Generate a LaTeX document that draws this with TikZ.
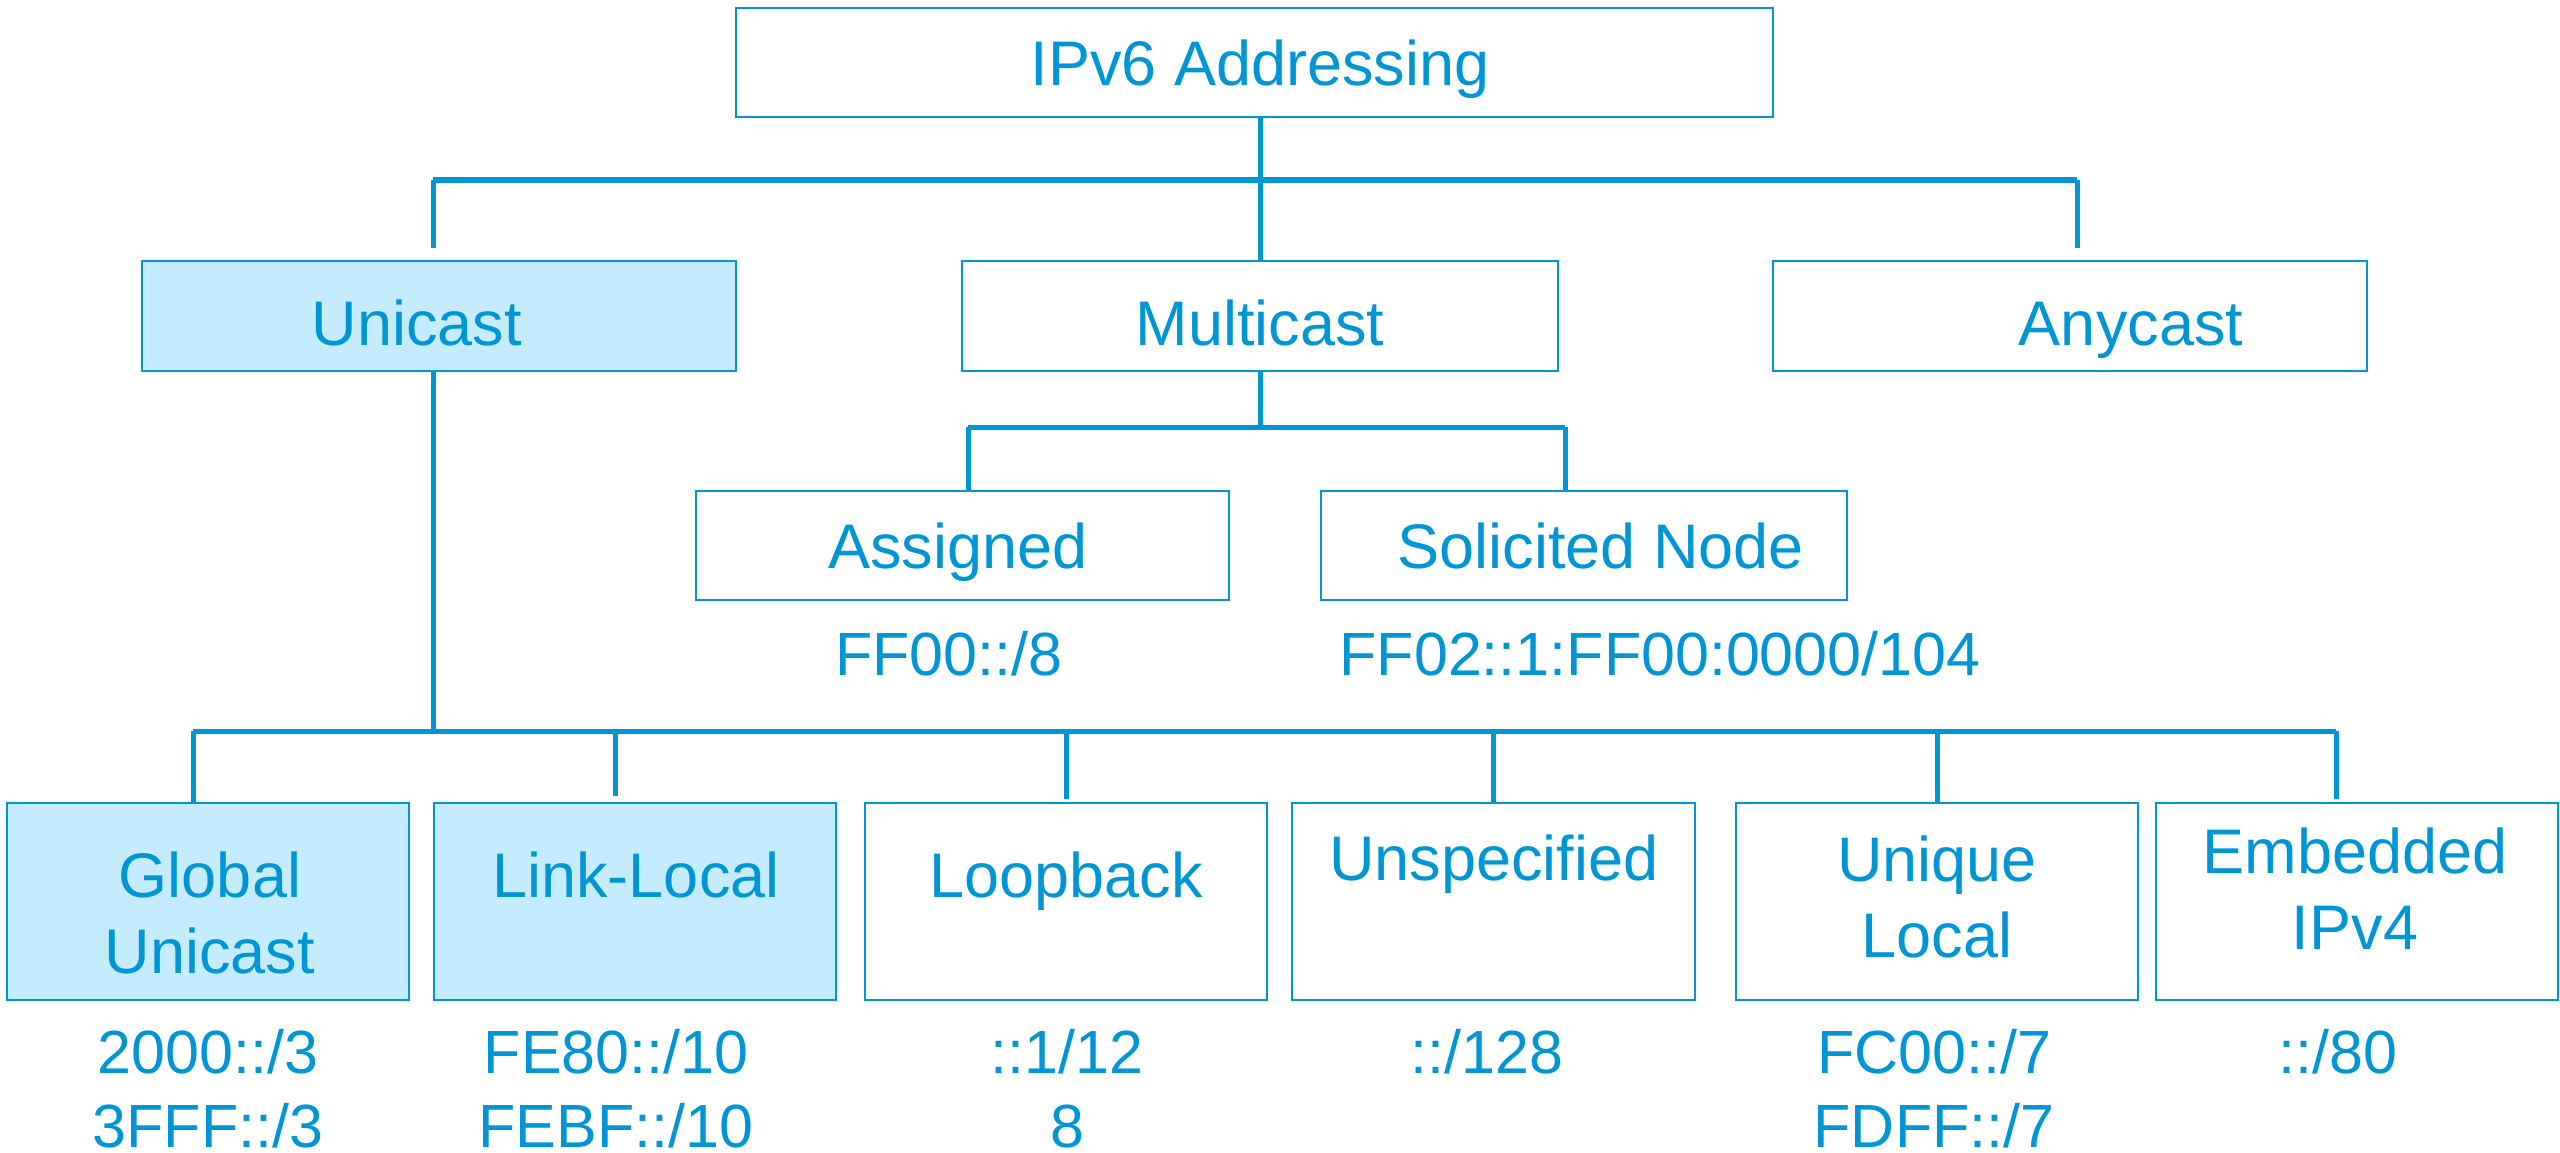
\documentclass[tikz,border=0pt]{standalone}
\usepackage{fontspec}
\setmainfont{Liberation Sans}
\definecolor{ib}{HTML}{0096D6}
\definecolor{fillb}{HTML}{C5ECFD}
\tikzset{
  box/.style={draw=ib, line width=2.5pt, rectangle, inner sep=0pt, outer sep=0pt},
  hbox/.style={box, fill=fillb},
  boxtext/.style={text=ib, inner sep=0pt, anchor=base, align=center, font=\fontsize{63}{76}\selectfont},
  lbl/.style={text=ib, inner sep=0pt, anchor=base, align=center, font=\fontsize{61}{74}\selectfont},
  conn/.style={draw=ib, line width=5pt}
}
\begin{document}
\begin{tikzpicture}[x=1pt,y=-1pt]
\useasboundingbox (0,0) rectangle (2560,1153);
% boxes
\node[box, minimum width=1037pt, minimum height=109pt] (top) at (1254.5,62.5) {};
\node[hbox, minimum width=594pt, minimum height=110pt] (uni) at (439,316) {};
\node[box, minimum width=596pt, minimum height=110pt] (multi) at (1260,316) {};
\node[box, minimum width=594pt, minimum height=110pt] (any) at (2070,316) {};
\node[box, minimum width=533pt, minimum height=109pt] (asg) at (962.5,545.5) {};
\node[box, minimum width=526pt, minimum height=109pt] (sol) at (1584,545.5) {};
\node[hbox, minimum width=402pt, minimum height=197pt] (glob) at (208,901.5) {};
\node[hbox, minimum width=402pt, minimum height=197pt] (link) at (635,901.5) {};
\node[box, minimum width=402pt, minimum height=197pt] (loop) at (1066,901.5) {};
\node[box, minimum width=403pt, minimum height=197pt] (unsp) at (1493.5,901.5) {};
\node[box, minimum width=402pt, minimum height=197pt] (uniq) at (1937,901.5) {};
\node[box, minimum width=402pt, minimum height=197pt] (emb) at (2357,901.5) {};
% texts (multi-line nodes are placed by the baseline of their last line)
\node[boxtext] (ttop) at (1260,86) {IPv6 Addressing};
\node[boxtext] (tuni) at (417,345) {Unicast};
\node[boxtext] (tmulti) at (1260,345) {Multicast};
\node[boxtext] (tany) at (2131,345) {Anycast};
\node[boxtext] (tasg) at (958,568) {Assigned};
\node[boxtext] (tsol) at (1601,568) {Solicited Node};
\node[lbl] (lasg) at (949,675) {FF00::/8};
\node[lbl] (lsol) at (1660,675) {FF02::1:FF00:0000/104};
\node[boxtext] (tglob) at (210,973) {Global\\Unicast};
\node[boxtext] (tlink) at (636,897) {Link-Local};
\node[boxtext] (tloop) at (1066,897) {Loopback};
\node[boxtext] (tunsp) at (1494,880) {Unspecified};
\node[boxtext] (tuniq) at (1937,957) {Unique\\Local};
\node[boxtext] (temb) at (2355,949) {Embedded\\IPv4};
\node[lbl] (lglob) at (208,1147) {2000::/3\\3FFF::/3};
\node[lbl] (llink) at (616,1147) {FE80::/10\\FEBF::/10};
\node[lbl] (lloop) at (1067,1147) {::1/12\\8};
\node[lbl] (lunsp) at (1487,1073) {::/128};
\node[lbl] (luniq) at (1934,1147) {FC00::/7\\FDFF::/7};
\node[lbl] (lemb) at (2338,1073) {::/80};
% connector coordinates
\coordinate (tbL) at (433,180);
\coordinate (tbR) at (2077,180);
\coordinate (tsL) at (433,248);
\coordinate (tsR) at (2077,248);
\coordinate (mbL) at (968,427);
\coordinate (mbR) at (1565,427);
\coordinate (ubus) at (433,731);
\coordinate (bbL) at (193,731);
\coordinate (bbR) at (2336,731);
\coordinate (sLink) at (615,796);
\coordinate (sLoop) at (1066,799);
\coordinate (sEmb) at (2336,799);
% connectors
\draw[conn] (multi.north) -- (multi.north |- top.south);
\draw[conn] (tbL) -- (tbR);
\draw[conn] (tbL) -- (tsL);
\draw[conn] (tbR) -- (tsR);
\draw[conn] (multi.south) -- (multi.south |- mbL);
\draw[conn] (mbL) -- (mbR);
\draw[conn] (mbL) -- (mbL |- asg.north);
\draw[conn] (mbR) -- (mbR |- sol.north);
\draw[conn] (ubus |- uni.south) -- (ubus);
\draw[conn] (bbL) -- (bbR);
\draw[conn] (bbL) -- (bbL |- glob.north);
\draw[conn] (sLink |- bbL) -- (sLink);
\draw[conn] (sLoop |- bbL) -- (sLoop);
\draw[conn] (unsp.north |- bbL) -- (unsp.north);
\draw[conn] (uniq.north |- bbL) -- (uniq.north);
\draw[conn] (bbR) -- (sEmb);
\end{tikzpicture}
\end{document}
